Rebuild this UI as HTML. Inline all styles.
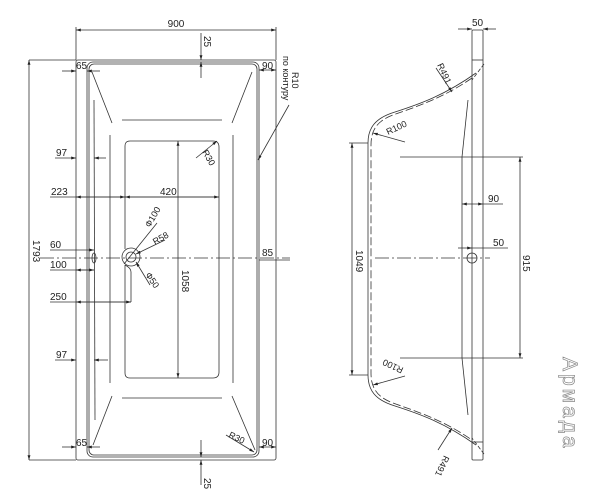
<!DOCTYPE html>
<html><head><style>body{margin:0;background:#fff}svg{display:block}text{font-family:"Liberation Sans",sans-serif;font-size:10px;fill:#222}text.s{font-size:9px}</style></head>
<body>
<svg width="600" height="502" viewBox="0 0 600 502" xmlns="http://www.w3.org/2000/svg">
<defs><marker id="a" viewBox="0 0 10 10" refX="10" refY="5" markerWidth="6" markerHeight="6" orient="auto-start-reverse"><path d="M0,2 L10,5 L0,8z" fill="#222"/></marker></defs>
<g stroke="#333" stroke-width="0.8" fill="none">
<rect x="76" y="60" width="200" height="400" rx="2"/>
<rect x="87" y="62" width="172" height="395" rx="6"/>
<rect x="89" y="64" width="168" height="391" rx="5"/>
<line x1="76" y1="60" x2="76" y2="27"/><line x1="276" y1="60" x2="276" y2="27"/>
<line x1="76" y1="30" x2="276" y2="30" marker-start="url(#a)" marker-end="url(#a)"/>
<line x1="29" y1="60" x2="76" y2="60"/>
<line x1="29" y1="60" x2="29" y2="460" marker-start="url(#a)" marker-end="url(#a)"/>
<line x1="29" y1="460" x2="76" y2="460"/>
<line x1="94" y1="100" x2="95" y2="420"/>
<line x1="110" y1="135" x2="110" y2="383"/>
<line x1="233" y1="135" x2="233" y2="383"/>
<line x1="92" y1="72" x2="112" y2="123"/><line x1="252" y1="72" x2="232" y2="123"/>
<line x1="122" y1="120" x2="222" y2="120"/><line x1="122" y1="398" x2="222" y2="398"/>
<line x1="112" y1="396" x2="93" y2="445"/><line x1="232" y1="396" x2="255" y2="450"/>
<path d="M130,141 H213 Q219,141 219,147 V372 Q219,378 213,378 H130 Q125,378 125,373 V265 M125,249 V146 Q125,141 130,141"/>
<circle cx="131" cy="257" r="9"/><circle cx="131" cy="257" r="5"/>
<path d="M125,265 Q131,268 131,272 V302"/>
<ellipse cx="94" cy="258" rx="2" ry="5"/>
<line x1="40" y1="258" x2="290" y2="258" stroke-dasharray="14,3,2,3"/>
<line x1="178" y1="141" x2="178" y2="378" marker-start="url(#a)" marker-end="url(#a)"/>
<line x1="62" y1="71" x2="76" y2="71" marker-end="url(#a)"/><line x1="87" y1="71" x2="100" y2="71" marker-start="url(#a)"/>
<line x1="55" y1="158" x2="76" y2="158" marker-end="url(#a)"/><line x1="94" y1="158" x2="106" y2="158" marker-start="url(#a)"/>
<line x1="50" y1="197" x2="219" y2="197"/>
<line x1="76" y1="197" x2="125" y2="197" marker-start="url(#a)" marker-end="url(#a)"/>
<line x1="125" y1="197" x2="219" y2="197" marker-start="url(#a)" marker-end="url(#a)"/>
<line x1="50" y1="250" x2="94" y2="250" marker-end="url(#a)"/>
<line x1="50" y1="270" x2="94" y2="270"/><line x1="76" y1="270" x2="94" y2="270" marker-start="url(#a)" marker-end="url(#a)"/>
<line x1="50" y1="302" x2="131" y2="302"/><line x1="76" y1="302" x2="131" y2="302" marker-start="url(#a)" marker-end="url(#a)"/>
<line x1="55" y1="360" x2="76" y2="360" marker-end="url(#a)"/><line x1="94" y1="360" x2="108" y2="360" marker-start="url(#a)"/>
<line x1="62" y1="447" x2="76" y2="447" marker-end="url(#a)"/><line x1="87" y1="447" x2="100" y2="447" marker-start="url(#a)"/>
<line x1="259" y1="70" x2="276" y2="70" marker-start="url(#a)" marker-end="url(#a)"/>
<line x1="259" y1="447" x2="276" y2="447" marker-start="url(#a)" marker-end="url(#a)"/>
<line x1="259" y1="260" x2="290" y2="260"/>
<line x1="201" y1="33" x2="201" y2="60" marker-end="url(#a)"/><line x1="201" y1="62" x2="201" y2="78" marker-start="url(#a)"/>
<line x1="201" y1="440" x2="201" y2="457" marker-end="url(#a)"/><line x1="201" y1="460" x2="201" y2="485" marker-start="url(#a)"/>
<line x1="289" y1="105" x2="258" y2="160" marker-end="url(#a)"/>
<line x1="196" y1="158" x2="217" y2="141" marker-end="url(#a)"/>
<line x1="226" y1="435" x2="254" y2="452" marker-end="url(#a)"/>
<line x1="157" y1="223" x2="124" y2="264"/><line x1="165" y1="240" x2="136" y2="254" marker-end="url(#a)"/>
<line x1="150" y1="285" x2="136" y2="262" marker-end="url(#a)"/>
<rect x="472" y="30" width="11" height="430" rx="1"/>
<line x1="472" y1="60" x2="483" y2="60"/><line x1="472" y1="442" x2="483" y2="442"/>
<path d="M468,100 L462,157 V358 L468,415"/>
<path d="M476,73 C445,95 420,104 395,112 C375,118 368,128 368,143 V375 C368,390 375,400 395,406 C420,414 445,423 476,445"/>
<path d="M472,78 C443,98 418,106 393,115 C377,121 371,130 371,145 V373 C371,388 377,397 393,403 C418,412 443,420 472,440" stroke-dasharray="8,3"/>
<line x1="484" y1="64" x2="472" y2="80" stroke-dasharray="4,2"/><line x1="484" y1="454" x2="472" y2="438" stroke-dasharray="4,2"/>
<line x1="375" y1="258" x2="490" y2="258" stroke-dasharray="14,3,2,3"/>
<circle cx="472" cy="258" r="5"/>
<line x1="349" y1="143" x2="368" y2="143"/><line x1="349" y1="375" x2="368" y2="375"/>
<line x1="352" y1="143" x2="352" y2="375" marker-start="url(#a)" marker-end="url(#a)"/>
<line x1="400" y1="157" x2="523" y2="157"/><line x1="400" y1="358" x2="523" y2="358"/>
<line x1="520" y1="157" x2="520" y2="358" marker-start="url(#a)" marker-end="url(#a)"/>
<line x1="462" y1="204" x2="483" y2="204" marker-start="url(#a)" marker-end="url(#a)"/><line x1="483" y1="204" x2="503" y2="204"/>
<line x1="458" y1="248" x2="472" y2="248" marker-end="url(#a)"/><line x1="472" y1="248" x2="508" y2="248"/>
<line x1="458" y1="29" x2="472" y2="29" marker-end="url(#a)"/><line x1="483" y1="29" x2="496" y2="29" marker-start="url(#a)"/>
<line x1="436" y1="68" x2="452" y2="92" marker-end="url(#a)"/>
<line x1="405" y1="142" x2="373" y2="133" marker-end="url(#a)"/>
<line x1="405" y1="376" x2="373" y2="385" marker-end="url(#a)"/>
<line x1="438" y1="450" x2="452" y2="428" marker-end="url(#a)"/>
</g>
<text x="176" y="27" text-anchor="middle">900</text>
<text transform="translate(204,36) rotate(90)">25</text>
<text transform="translate(204,478) rotate(90)">25</text>
<text transform="translate(33,240) rotate(90)">1793</text>
<text x="76" y="69">65</text><text x="76" y="446">65</text>
<text x="262" y="69">90</text><text x="262" y="446">90</text>
<text x="56" y="156">97</text><text x="56" y="358">97</text>
<text x="51" y="195">223</text><text x="160" y="195">420</text>
<text x="50" y="248">60</text><text x="50" y="268">100</text><text x="50" y="300">250</text>
<text x="262" y="256">85</text>
<text transform="translate(182,270) rotate(90)">1058</text>
<text class="s" transform="translate(292,72) rotate(90)">R10</text>
<text class="s" transform="translate(283,56) rotate(90)">по контуру</text>
<text class="s" transform="translate(202,152) rotate(60)">R30</text>
<text class="s" transform="translate(228,437) rotate(25)">R30</text>
<text class="s" transform="translate(150,228) rotate(-60)">Ф100</text>
<text class="s" transform="translate(155,245) rotate(-30)">R58</text>
<text class="s" transform="translate(145,275) rotate(55)">Ф50</text>
<text x="472" y="26">50</text>
<text x="488" y="202">90</text>
<text x="493" y="246">50</text>
<text transform="translate(356,250) rotate(90)">1049</text>
<text transform="translate(523,255) rotate(90)">915</text>
<text class="s" transform="translate(437,65) rotate(65)">R491</text>
<text class="s" transform="translate(388,135) rotate(-25)">R100</text>
<text class="s" transform="translate(404,368) rotate(205)">R100</text>
<text class="s" transform="translate(444,455) rotate(115)">R491</text>
<text transform="translate(563,357) rotate(90)" style="font-size:21px;fill:none;stroke:#888;stroke-width:0.7;letter-spacing:3px">Армада</text>
</svg>
</body></html>
